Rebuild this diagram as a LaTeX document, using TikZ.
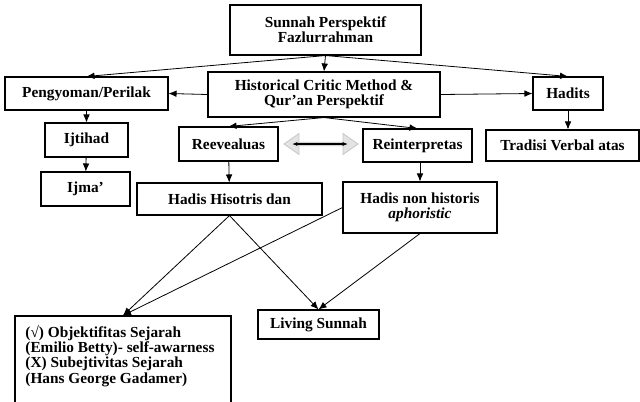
\documentclass[tikz,border=0pt]{standalone}
\usepackage{fontspec}
\setmainfont{Liberation Serif}
\usetikzlibrary{positioning}
\usetikzlibrary{shapes.arrows}
\usetikzlibrary{arrows.meta}

\tikzset{
  box/.style={draw, line width=0.8pt, inner sep=0pt, align=center},
  wh/.style 2 args={minimum width=#1*0.75pt, minimum height=#2*0.75pt},
  edge/.style={line width=0.6pt, -{Latex[length=6pt, width=5pt]}}
}

\begin{document}
\begin{tikzpicture}[x=0.75pt, y=-0.75pt, font=\bfseries\fontsize{11.5}{11.5}\selectfont]
    \useasboundingbox (0,0) rectangle (640,401);

    % top level
    \node[box, wh={191}{50}] (sunnah) at (325.5,30) {Sunnah Perspektif\\Fazlurrahman};

    % second level
    \node[box, wh={163}{33}] (peng) at (86.5,93.5) {Pengyoman/Perilak};
    \node[box, wh={232}{45}] (hcm) at (324,94.5) {Historical Critic Method \&\\Qur'an Perspektif};
    \node[box, wh={70}{33}] (hadits) at (568,93.5) {Hadits};
    \draw[edge] (sunnah.south) -- (hcm.north);
    \draw[edge] (sunnah.south) -- (peng.north);
    \draw[edge] (sunnah.south) -- (hadits.north);
    \draw[edge] (hcm.west) -- (peng.east);
    \draw[edge] (hcm.east) -- (hadits.west);

    % third level
    \node[box, wh={83}{34}] (ijtihad) at (86.5,140) {Ijtihad};
    \node[box, wh={99}{34}] (reev) at (228.5,144) {Reevealuas};
    \node[box, wh={109}{33}] (reint) at (417.5,145.5) {Reinterpretas};
    \node[box, wh={153}{31}] (tradisi) at (562.5,145.5) {Tradisi Verbal atas};
    \node[double arrow, draw=gray!45, fill=gray!22, line width=0.6pt, inner sep=0pt,
          wh={21}{74}, double arrow head extend=1.6pt, double arrow tip angle=70] (swap) at (321,144) {};
    \draw[line width=0.8pt, {Latex[length=4pt]}-{Latex[length=4pt]}] ([xshift=6.5pt]swap.west) -- ([xshift=-8pt]swap.east);
    \draw[edge] (peng) -- (ijtihad);
    \draw[edge] (hcm.south) -- (reev.north);
    \draw[edge] (hcm.south) -- (reint.north);
    \draw[edge] (hadits.south) -- (hadits.south |- tradisi.north);

    % fourth level
    \node[box, wh={89}{34}] (ijma) at (85.5,189) {Ijma'};
    \node[box, wh={185}{32}] (hisotris) at (229.5,199) {Hadis Hisotris dan};
    \node[box, wh={154}{51}] (nonhist) at (420,207.5) {Hadis non historis\\\itshape aphoristic};
    \draw[edge] (ijtihad) -- (ijma);
    \draw[edge] (reev) -- (hisotris);
    \draw[edge] (nonhist.north |- reint.south) -- (nonhist.north);

    % bottom level
    \node[box, wh={216}{87}] (objek) at (123,359.5) {};
    \node[anchor=north west, align=left, inner sep=0pt, below right=7pt and 8pt of objek.north west]
      (objektext) {(√) Objektifitas Sejarah\\(Emilio Betty)- self-awarness\\(X) Subejtivitas Sejarah\\(Hans George Gadamer)};
    \node[box, wh={121}{29}] (living) at (318.5,324.5) {Living Sunnah};
    \draw[edge] (hisotris.south) -- (objek.north);
    \draw[edge] (hisotris.south) -- (living.north);
    \draw[edge] (nonhist.west) -- (objek.north);
    \draw[edge] (nonhist.south) -- (living.north);

\end{tikzpicture}
\end{document}
